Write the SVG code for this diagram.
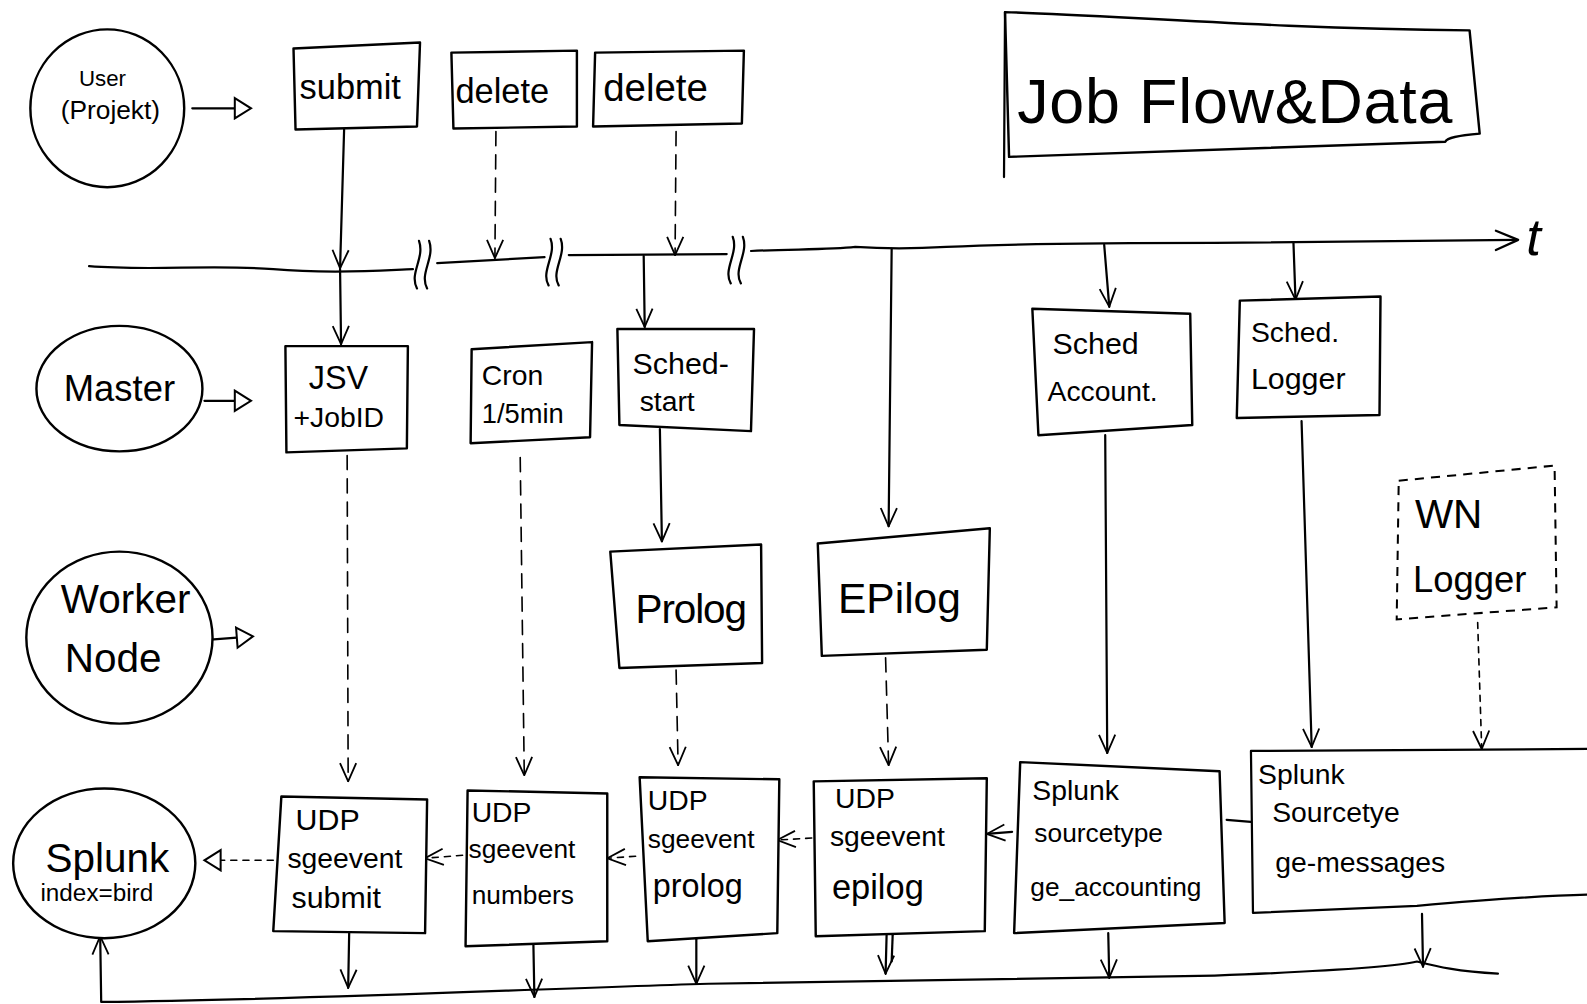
<svg xmlns="http://www.w3.org/2000/svg" width="1587" height="1004" viewBox="0 0 1587 1004">
<defs>
<style>
.s{fill:none;stroke:#000;stroke-width:2.2;stroke-linecap:round;stroke-linejoin:round}
.d{fill:none;stroke:#000;stroke-width:1.6;stroke-dasharray:14 9;stroke-linecap:round}
.dd{fill:none;stroke:#000;stroke-width:1.6;stroke-dasharray:6 6;stroke-linecap:round}
.b{fill:#fff;stroke:#000;stroke-width:2.4;stroke-linejoin:round}
.bd{fill:#fff;stroke:#000;stroke-width:2;stroke-dasharray:9 7}
.t{font-family:"Liberation Sans","DejaVu Sans",sans-serif;fill:#000}
.c{fill:#fff;stroke:#000;stroke-width:2.4}
</style>
<marker id="v" viewBox="0 0 20 20" refX="19" refY="10" markerWidth="20" markerHeight="20" markerUnits="userSpaceOnUse" orient="auto">
<path d="M1,2 L19,10 L1,18" fill="none" stroke="#000" stroke-width="1.8"/>
</marker>
<marker id="tri" viewBox="0 0 20 24" refX="2" refY="12" markerWidth="20" markerHeight="24" markerUnits="userSpaceOnUse" orient="auto">
<path d="M2,2 L18,12 L2,22 Z" fill="#fff" stroke="#000" stroke-width="2"/>
</marker>
</defs>
<rect width="1587" height="1004" fill="#fff"/>
<g transform="scale(1.0121)">

<g id="connectors">
<path class="s" d="M88,263 C150,268 210,261 270,266 S380,267 408,266"/>
<path class="s" d="M432,260 C470,258 505,256 538,254"/>
<path class="s" d="M562,252 L718,251"/>
<path class="s" d="M742,248 C780,246 820,247 845,244 C875,246 900,246 935,244 C1000,241 1100,240 1200,240 L1498,237"/>
<path class="s" d="M1478,228 L1500,237 L1478,247"/>
<path class="s" d="M412,285 C404,270 420,255 414,238 M422,285 C414,270 430,255 424,238"/>
<path class="s" d="M542,282 C534,268 550,252 544,236 M552,282 C544,268 560,252 554,236"/>
<path class="s" d="M722,280 C714,266 730,250 724,234 M732,280 C724,266 740,250 734,234"/>
<path class="s" d="M340,128 L336,265" marker-end="url(#v)"/>
<path class="d" d="M490,130 L489,255" marker-end="url(#v)"/>
<path class="d" d="M668,130 L667,252" marker-end="url(#v)"/>
<path class="s" d="M336,266 L337,340" marker-end="url(#v)"/>
<path class="s" d="M636,253 L637,323" marker-end="url(#v)"/>
<path class="s" d="M881,246 L878,520" marker-end="url(#v)"/>
<path class="s" d="M1091,242 L1096,303" marker-end="url(#v)"/>
<path class="s" d="M1278,240 L1280,296" marker-end="url(#v)"/>
<path class="s" d="M652,424 L654,535" marker-end="url(#v)"/>
<path class="s" d="M190,107 L232,107" marker-end="url(#tri)"/>
<path class="s" d="M202,396 L232,396" marker-end="url(#tri)"/>
<path class="s" d="M208,632 L234,630" marker-end="url(#tri)"/>
<path class="d" d="M343,450 L344,772" marker-end="url(#v)"/>
<path class="d" d="M514,452 L518,766" marker-end="url(#v)"/>
<path class="d" d="M668,662 L670,756" marker-end="url(#v)"/>
<path class="d" d="M875,650 L878,756" marker-end="url(#v)"/>
<path class="s" d="M1092,430 L1094,744" marker-end="url(#v)"/>
<path class="s" d="M1286,416 L1296,738" marker-end="url(#v)"/>
<path class="dd" d="M1460,615 L1464,740" marker-end="url(#v)"/>
<path class="dd" d="M270,850 L218,850" marker-end="url(#tri)"/>
<path class="dd" d="M457,845 L420,848" marker-end="url(#v)"/>
<path class="dd" d="M628,846 L600,848" marker-end="url(#v)"/>
<path class="dd" d="M802,828 L768,830" marker-end="url(#v)"/>
<path class="s" d="M1000,822 L975,824" marker-end="url(#v)"/>
<path class="s" d="M1236,812 L1212,810"/>
<path class="s" d="M345,922 L344,976" marker-end="url(#v)"/>
<path class="s" d="M527,932 L528,985" marker-end="url(#v)"/>
<path class="s" d="M688,928 L688,972" marker-end="url(#v)"/>
<path class="s" d="M876,924 L875,962" marker-end="url(#v)"/>
<path class="s" d="M882,924 L881,950"/>
<path class="s" d="M1095,922 L1096,966" marker-end="url(#v)"/>
<path class="s" d="M1405,903 L1406,955" marker-end="url(#v)"/>
<path class="s" d="M1480,962 C1440,960 1420,955 1400,950 C1380,955 1300,960 1200,964 C1000,966 800,970 700,972 C500,978 300,988 100,990 L99,925" marker-end="url(#v)"/>
</g>

<g id="title">
<path class="b" d="M993,12 C1100,15 1250,28 1452,30 L1462,132 C1440,134 1430,136 1428,140 C1300,145 1150,150 997,155 Z"/>
<path class="s" d="M993,12 L992,175"/>
<text class="t" x="1005" y="122" font-size="62" textLength="430">Job Flow&amp;Data</text>
</g>
<text class="t" x="1508" y="252" font-size="52" font-style="italic">t</text>

<g id="user">
<ellipse class="c" cx="106" cy="107" rx="76" ry="78"/>
<text class="t" x="78" y="85" font-size="22">User</text>
<text class="t" x="60" y="118" font-size="26">(Projekt)</text>
</g>
<g id="submit">
<path class="b" d="M290,48 L415,42 L412,125 L292,128 Z"/>
<text class="t" x="296" y="98" font-size="34">submit</text>
</g>
<g id="delete1">
<path class="b" d="M446,52 L570,50 L570,125 L448,127 Z"/>
<text class="t" x="450" y="102" font-size="34">delete</text>
</g>
<g id="delete2">
<path class="b" d="M588,52 L735,50 L733,122 L586,125 Z"/>
<text class="t" x="596" y="100" font-size="38">delete</text>
</g>

<g id="master">
<ellipse class="c" cx="118" cy="384" rx="82" ry="62"/>
<text class="t" x="63" y="396" font-size="36">Master</text>
</g>
<g id="jsv">
<path class="b" d="M282,342 L403,342 L402,443 L283,447 Z"/>
<text class="t" x="305" y="384" font-size="32">JSV</text>
<text class="t" x="290" y="422" font-size="28">+JobID</text>
</g>
<g id="cron">
<path class="b" d="M466,345 L585,338 L583,432 L465,438 Z"/>
<text class="t" x="476" y="380" font-size="28">Cron</text>
<text class="t" x="476" y="418" font-size="27">1/5min</text>
</g>
<g id="schedstart">
<path class="b" d="M610,325 L745,325 L742,426 L612,420 Z"/>
<text class="t" x="625" y="370" font-size="30">Sched-</text>
<text class="t" x="632" y="406" font-size="28">start</text>
</g>
<g id="schedaccount">
<path class="b" d="M1020,305 L1176,310 L1178,420 L1026,430 Z"/>
<text class="t" x="1040" y="350" font-size="30">Sched</text>
<text class="t" x="1035" y="396" font-size="28">Account.</text>
</g>
<g id="schedlogger">
<path class="b" d="M1225,297 L1364,293 L1363,410 L1222,413 Z"/>
<text class="t" x="1236" y="338" font-size="28">Sched.</text>
<text class="t" x="1236" y="384" font-size="30">Logger</text>
</g>

<g id="worker">
<ellipse class="c" cx="118" cy="630" rx="92" ry="85"/>
<text class="t" x="60" y="606" font-size="40">Worker</text>
<text class="t" x="64" y="664" font-size="40">Node</text>
</g>
<g id="prolog">
<path class="b" d="M603,545 L752,538 L753,655 L612,660 Z"/>
<text class="t" x="628" y="616" font-size="40" textLength="110">Prolog</text>
</g>
<g id="epilog">
<path class="b" d="M808,537 L978,522 L975,642 L812,648 Z"/>
<text class="t" x="828" y="606" font-size="42">EPilog</text>
</g>
<g id="wnlogger">
<path class="bd" d="M1382,475 L1536,460 L1538,600 L1380,612 Z"/>
<text class="t" x="1398" y="522" font-size="40">WN</text>
<text class="t" x="1396" y="585" font-size="36">Logger</text>
</g>

<g id="splunk">
<ellipse class="c" cx="103" cy="853" rx="90" ry="74"/>
<text class="t" x="45" y="862" font-size="40">Splunk</text>
<text class="t" x="40" y="890" font-size="24">index=bird</text>
</g>
<g id="udpsubmit">
<path class="b" d="M278,787 L422,790 L420,922 L270,920 Z"/>
<text class="t" x="292" y="820" font-size="30">UDP</text>
<text class="t" x="284" y="858" font-size="28">sgeevent</text>
<text class="t" x="288" y="897" font-size="30">submit</text>
</g>
<g id="udpnumbers">
<path class="b" d="M462,781 L600,784 L600,930 L460,935 Z"/>
<text class="t" x="466" y="812" font-size="28">UDP</text>
<text class="t" x="463" y="848" font-size="26">sgeevent</text>
<text class="t" x="466" y="893" font-size="26">numbers</text>
</g>
<g id="udpprolog">
<path class="b" d="M632,768 L770,770 L768,922 L640,930 Z"/>
<text class="t" x="640" y="800" font-size="28">UDP</text>
<text class="t" x="640" y="838" font-size="26">sgeevent</text>
<text class="t" x="645" y="886" font-size="32">prolog</text>
</g>
<g id="udpepilog">
<path class="b" d="M804,772 L975,769 L973,920 L806,925 Z"/>
<text class="t" x="825" y="798" font-size="28">UDP</text>
<text class="t" x="820" y="836" font-size="28">sgeevent</text>
<text class="t" x="822" y="888" font-size="34">epilog</text>
</g>
<g id="geaccounting">
<path class="b" d="M1008,753 L1205,762 L1210,912 L1002,922 Z"/>
<text class="t" x="1020" y="790" font-size="28">Splunk</text>
<text class="t" x="1022" y="832" font-size="26">sourcetype</text>
<text class="t" x="1018" y="885" font-size="26">ge_accounting</text>
</g>
<g id="gemessages">
<path d="M1236,742 L1568,740 L1568,884 C1520,885 1480,888 1400,895 L1238,902 Z" fill="#fff"/>
<path class="s" d="M1236,742 L1568,740 M1236,742 L1238,902 L1400,895 C1480,888 1520,885 1568,884"/>
<text class="t" x="1243" y="775" font-size="28">Splunk</text>
<text class="t" x="1257" y="812" font-size="28">Sourcetye</text>
<text class="t" x="1260" y="862" font-size="28">ge-messages</text>
</g>
</g>
</svg>
